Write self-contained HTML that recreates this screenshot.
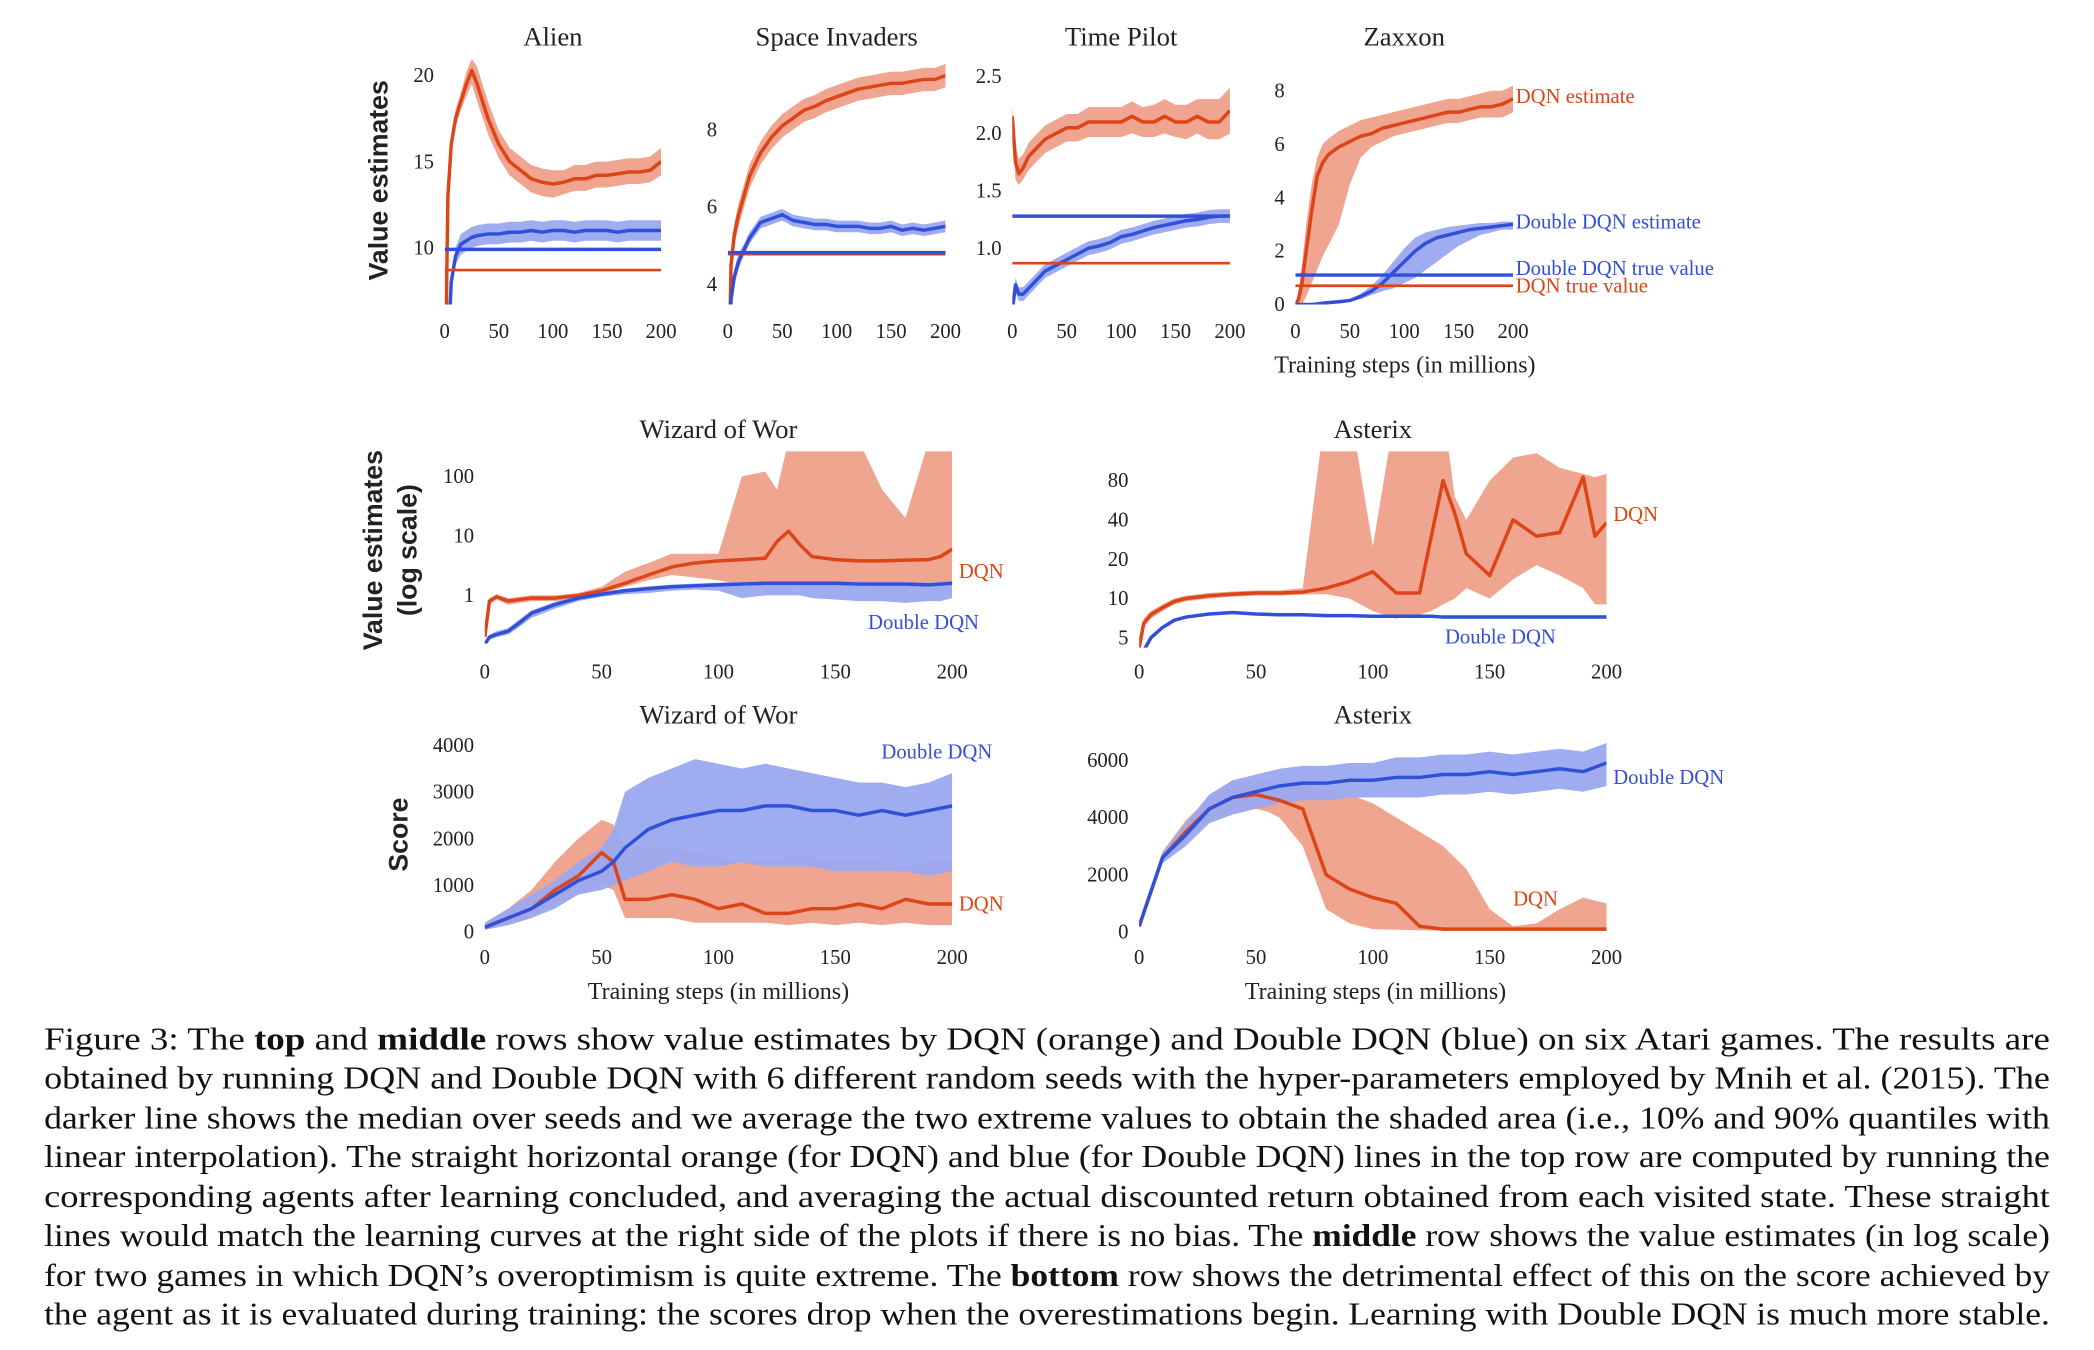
<!DOCTYPE html>
<html><head><meta charset="utf-8">
<style>
html,body{margin:0;padding:0;background:#fff;}
svg{display:block;}
.tk{font-family:"Liberation Serif",serif;font-size:15.5px;fill:#222;}
.tt{font-family:"Liberation Serif",serif;font-size:20px;fill:#222;}
.yl{font-family:"Liberation Sans",sans-serif;font-size:20px;font-weight:bold;fill:#222;}
.lb{font-family:"Liberation Serif",serif;font-size:15.5px;}
.cap{font-family:"Liberation Serif",serif;font-size:23.5px;fill:#111;}
</style></head>
<body>
<svg id="fig" width="2094" height="1350" viewBox="0 0 1568 1011" preserveAspectRatio="none" xmlns="http://www.w3.org/2000/svg">
<defs id="defs"></defs>
<g id="plots"></g>
<text class="yl" transform="translate(290,135) rotate(-90)" text-anchor="middle">Value estimates</text>
<text class="yl" transform="translate(286,412) rotate(-90)" text-anchor="middle">Value estimates</text>
<text class="yl" transform="translate(312,412) rotate(-90)" text-anchor="middle">(log scale)</text>
<text class="yl" transform="translate(305,625) rotate(-90)" text-anchor="middle">Score</text>
<text class="tt" x="1052" y="279" text-anchor="middle" style="font-size:18px">Training steps (in millions)</text>
<text class="tt" x="538" y="748" text-anchor="middle" style="font-size:18px">Training steps (in millions)</text>
<text class="tt" x="1030" y="748" text-anchor="middle" style="font-size:18px">Training steps (in millions)</text>
<g>
<text class="cap" x="33" y="786" textLength="1502" lengthAdjust="spacingAndGlyphs">Figure 3:  The <tspan font-weight="bold">top</tspan> and <tspan font-weight="bold">middle</tspan> rows show value estimates by DQN (orange) and Double DQN (blue) on six Atari games. The results are</text>
<text class="cap" x="33" y="815" textLength="1502" lengthAdjust="spacingAndGlyphs">obtained by running DQN and Double DQN with 6 different random seeds with the hyper-parameters employed by Mnih et al. (2015). The</text>
<text class="cap" x="33" y="845" textLength="1502" lengthAdjust="spacingAndGlyphs">darker line shows the median over seeds and we average the two extreme values to obtain the shaded area (i.e., 10% and 90% quantiles with</text>
<text class="cap" x="33" y="874" textLength="1502" lengthAdjust="spacingAndGlyphs">linear interpolation). The straight horizontal orange (for DQN) and blue (for Double DQN) lines in the top row are computed by running the</text>
<text class="cap" x="33" y="904" textLength="1502" lengthAdjust="spacingAndGlyphs">corresponding agents after learning concluded, and averaging the actual discounted return obtained from each visited state. These straight</text>
<text class="cap" x="33" y="933" textLength="1502" lengthAdjust="spacingAndGlyphs">lines would match the learning curves at the right side of the plots if there is no bias. The <tspan font-weight="bold">middle</tspan> row shows the value estimates (in log scale)</text>
<text class="cap" x="33" y="963" textLength="1502" lengthAdjust="spacingAndGlyphs">for two games in which DQN’s overoptimism is quite extreme. The <tspan font-weight="bold">bottom</tspan> row shows the detrimental effect of this on the score achieved by</text>
<text class="cap" x="33" y="992" textLength="1502" lengthAdjust="spacingAndGlyphs">the agent as it is evaluated during training: the scores drop when the overestimations begin. Learning with Double DQN is much more stable.</text>
</g>
</svg>
<script>
// ---------- data ----------
const xsTop = [0,3,6,10,15,20,25,30,40,50,60,70,80,90,100,110,120,130,140,150,160,170,180,190,200];
const xsMid = [0,2,5,10,15,20,30,40,50,60,70,80,90,100,110,120,125,130,135,140,150,160,170,180,190,195,200];
const xsBot = [0,10,20,30,40,50,55,60,70,80,90,100,110,120,130,140,150,160,170,180,190,200];

const alienDqn   = [0,13,16,17.5,18.5,19.5,20.3,19.5,17.5,16,15,14.5,14,13.8,13.7,13.8,14,14,14.2,14.2,14.3,14.4,14.4,14.5,15];
const alienDqnLo = [0,12.5,15.5,17,18,18.8,19.5,18.5,16.6,15.2,14.2,13.7,13.2,13,12.9,13.1,13.3,13.3,13.5,13.5,13.6,13.7,13.7,13.8,14.2];
const alienDqnHi = [0,13.5,16.5,18,19,20.2,21,20.5,18.5,16.8,15.8,15.3,14.8,14.6,14.5,14.5,14.8,14.8,15,15,15.1,15.2,15.2,15.3,15.8];
const alienDdqn   = [0,4,8,9.5,10.2,10.4,10.6,10.7,10.8,10.8,10.9,10.9,11,10.9,11,11,10.9,11,11,11,10.9,11,11,11,11];
const alienDdqnLo = [0,3.6,7.6,9,9.6,9.8,10,10.1,10.2,10.2,10.3,10.3,10.4,10.3,10.4,10.4,10.3,10.4,10.4,10.4,10.3,10.4,10.4,10.4,10.4];
const alienDdqnHi = [0,4.4,8.4,10,10.8,11,11.2,11.3,11.4,11.4,11.5,11.5,11.6,11.5,11.6,11.6,11.5,11.6,11.6,11.6,11.5,11.6,11.6,11.6,11.6];
const alienTrue = [8.7, 9.9];

const siDqn   = [0,4.5,5.3,5.8,6.3,6.8,7.1,7.4,7.8,8.1,8.3,8.5,8.6,8.75,8.85,8.95,9.05,9.1,9.15,9.2,9.2,9.25,9.3,9.3,9.4];
const siDqnLo = [0,4.2,5,5.5,6,6.5,6.8,7.1,7.5,7.8,8,8.2,8.3,8.45,8.55,8.65,8.75,8.8,8.85,8.9,8.9,8.95,9,9,9.1];
const siDqnHi = [0,4.8,5.6,6.1,6.6,7.1,7.4,7.7,8.1,8.4,8.6,8.8,8.9,9.05,9.15,9.25,9.35,9.4,9.45,9.5,9.5,9.55,9.6,9.6,9.7];
const siDdqn   = [0,3.6,4.2,4.6,4.9,5.2,5.4,5.6,5.7,5.8,5.65,5.6,5.55,5.55,5.5,5.5,5.5,5.45,5.45,5.5,5.4,5.45,5.4,5.45,5.5];
const siDdqnLo = [0,3.4,4,4.4,4.75,5.05,5.25,5.45,5.55,5.65,5.5,5.45,5.4,5.4,5.35,5.35,5.35,5.3,5.3,5.35,5.25,5.3,5.25,5.3,5.35];
const siDdqnHi = [0,3.8,4.4,4.8,5.05,5.35,5.55,5.75,5.85,5.95,5.8,5.75,5.7,5.7,5.65,5.65,5.65,5.6,5.6,5.65,5.55,5.6,5.55,5.6,5.65];
const siTrue = [4.78, 4.82];

const tpDqn   = [2.15,1.75,1.65,1.7,1.8,1.85,1.9,1.95,2.0,2.05,2.05,2.1,2.1,2.1,2.1,2.15,2.1,2.1,2.15,2.1,2.1,2.15,2.1,2.1,2.2];
const tpDqnLo = [2.05,1.6,1.55,1.6,1.68,1.73,1.78,1.83,1.88,1.93,1.93,1.97,1.97,1.97,1.97,2.0,1.97,1.97,2.0,1.97,1.95,2.0,1.95,1.95,2.0];
const tpDqnHi = [2.25,1.9,1.78,1.82,1.92,1.97,2.02,2.07,2.12,2.17,2.17,2.23,2.23,2.23,2.23,2.28,2.23,2.25,2.3,2.25,2.25,2.3,2.3,2.3,2.4];
const tpDdqn   = [0.45,0.68,0.6,0.6,0.65,0.7,0.75,0.8,0.85,0.9,0.95,1.0,1.02,1.05,1.1,1.12,1.15,1.18,1.2,1.22,1.24,1.25,1.27,1.28,1.28];
const tpDdqnLo = [0.4,0.62,0.54,0.54,0.59,0.64,0.69,0.74,0.79,0.84,0.89,0.94,0.96,0.99,1.04,1.06,1.09,1.12,1.14,1.16,1.18,1.19,1.21,1.22,1.22];
const tpDdqnHi = [0.5,0.74,0.66,0.66,0.71,0.76,0.81,0.86,0.91,0.96,1.01,1.06,1.08,1.11,1.16,1.18,1.21,1.24,1.26,1.28,1.3,1.31,1.33,1.34,1.34];
const tpTrue = [0.87, 1.28];

const zxDqn   = [0,0.2,0.8,2,3.5,4.8,5.3,5.6,5.9,6.1,6.3,6.4,6.6,6.7,6.8,6.9,7.0,7.1,7.2,7.2,7.3,7.4,7.4,7.5,7.7];
const zxDqnLo = [0,0,0,0.3,0.8,1.3,1.8,2.2,3,4.5,5.5,5.9,6.1,6.3,6.4,6.5,6.6,6.7,6.8,6.8,6.9,7,7,7,7.2];
const zxDqnHi = [0,0.5,1.5,3,4.5,5.5,6,6.2,6.5,6.7,6.9,7,7.1,7.2,7.3,7.4,7.5,7.6,7.7,7.7,7.8,7.9,8,8,8.2];
const zxDdqn   = [0,0,0,0,0,0.02,0.05,0.07,0.1,0.15,0.3,0.5,0.8,1.2,1.6,2.0,2.3,2.5,2.6,2.7,2.8,2.85,2.9,2.95,3.0];
const zxDdqnLo = [0,0,0,0,0,0,0.02,0.04,0.06,0.1,0.2,0.35,0.5,0.6,0.8,1.0,1.3,1.6,1.9,2.2,2.4,2.6,2.7,2.8,2.8];
const zxDdqnHi = [0,0,0,0,0.03,0.05,0.08,0.1,0.14,0.2,0.4,0.7,1.1,1.6,2.1,2.5,2.7,2.8,2.9,2.95,3.0,3.05,3.05,3.1,3.1];
const zxTrue = [0.7, 1.1];

const wowDqn   = [0.2,0.8,0.95,0.8,0.85,0.9,0.9,1.0,1.2,1.6,2.2,3.0,3.5,3.8,4,4.2,8,12,7,4.5,4,3.8,3.8,3.9,4,4.5,6];
const wowDqnLo = [0.2,0.7,0.85,0.7,0.75,0.8,0.8,0.9,1.1,1.4,1.8,2.2,2.0,1.8,1.5,1.5,1.5,1.5,1.4,1.4,1.4,1.4,1.3,1.3,1.4,1.4,1.5];
const wowDqnHi = [0.2,0.9,1.05,0.9,0.95,1.0,1.0,1.1,1.4,2.5,3.5,5,5,5,100,120,60,400,400,400,400,400,60,20,400,400,400];
const wowDdqn   = [0.15,0.2,0.22,0.25,0.35,0.5,0.7,0.9,1.05,1.2,1.3,1.4,1.45,1.5,1.55,1.6,1.6,1.6,1.6,1.6,1.6,1.55,1.55,1.55,1.5,1.55,1.6];
const wowDdqnLo = [0.15,0.18,0.2,0.22,0.3,0.42,0.6,0.8,0.95,1.05,1.1,1.2,1.25,1.2,0.9,1.0,1.0,1.0,1.0,0.9,0.85,0.8,0.8,0.75,0.8,0.8,0.9];
const wowDdqnHi = [0.16,0.22,0.25,0.28,0.4,0.56,0.78,1.0,1.15,1.3,1.42,1.52,1.58,1.64,1.7,1.75,1.75,1.75,1.75,1.75,1.75,1.7,1.7,1.7,1.65,1.7,1.75];

const astDqn   = [4.2,6.5,7.5,8.5,9.5,10,10.5,10.8,11,11,11.2,12,13.5,16,11,11,30,80,45,22,15,40,30,32,85,30,38];
const astDqnLo = [4.2,6,7,8,9,9.5,10,10.3,10.5,10.5,10.7,10.8,10,8,7,7.5,8,9,10,12,10,14,18,15,12,9,9];
const astDqnHi = [4.2,7,8,9,10,10.5,11,11.3,11.5,11.5,12,300,300,25,300,300,300,300,60,40,80,120,130,100,90,85,90];
const astDdqn   = [3,4,5,6,6.8,7.2,7.6,7.8,7.6,7.5,7.5,7.4,7.4,7.3,7.3,7.3,7.3,7.2,7.2,7.2,7.2,7.2,7.2,7.2,7.2,7.2,7.2];
const astDdqnLo = [3,3.8,4.8,5.8,6.6,7.0,7.4,7.6,7.4,7.3,7.3,7.2,7.2,7.1,7.1,7.1,7.1,7.0,7.0,7.0,7.0,7.0,7.0,7.0,7.0,7.0,7.0];
const astDdqnHi = [3,4.2,5.2,6.2,7.0,7.4,7.8,8.0,7.8,7.7,7.7,7.6,7.6,7.5,7.5,7.5,7.5,7.4,7.4,7.4,7.4,7.4,7.4,7.4,7.4,7.4,7.4];

const wsDqn   = [100,300,500,900,1200,1700,1500,700,700,800,700,500,600,400,400,500,500,600,500,700,600,600];
const wsDqnLo = [50,150,300,600,800,1000,900,300,300,300,200,200,200,200,150,200,150,200,150,200,150,150];
const wsDqnHi = [200,500,900,1500,2000,2400,2300,1800,1800,1800,1700,1600,1500,1500,1600,1600,1500,1500,1500,1400,1500,1500];
const wsDdqn   = [100,300,500,800,1100,1300,1500,1800,2200,2400,2500,2600,2600,2700,2700,2600,2600,2500,2600,2500,2600,2700];
const wsDdqnLo = [50,150,300,500,800,900,1000,1100,1300,1500,1400,1400,1500,1400,1400,1400,1300,1300,1300,1300,1200,1300];
const wsDdqnHi = [200,500,800,1100,1500,1800,2200,3000,3300,3500,3700,3600,3500,3600,3500,3400,3300,3200,3200,3100,3200,3400];

const asDqn   = [200,2600,3500,4300,4700,4800,4700,4600,4300,2000,1500,1200,1000,200,100,100,100,100,100,100,100,100];
const asDqnLo = [150,2400,3200,3900,4200,4300,4200,4000,3000,800,300,100,80,60,50,50,50,50,50,50,50,50];
const asDqnHi = [250,2800,3900,4700,5300,5300,5300,5200,5100,5000,4800,4500,4000,3500,3000,2200,800,200,300,800,1200,1000];
const asDdqn   = [200,2600,3400,4300,4700,4900,5000,5100,5200,5200,5300,5300,5400,5400,5500,5500,5600,5500,5600,5700,5600,5900];
const asDdqnLo = [150,2400,3000,3800,4100,4300,4400,4500,4600,4600,4700,4700,4700,4700,4800,4800,4900,4800,4900,5000,4900,5100];
const asDdqnHi = [250,2800,3800,4800,5300,5500,5600,5700,5800,5800,5900,5900,6100,6100,6200,6200,6300,6200,6300,6400,6300,6600];

const xTicks = [0,50,100,150,200];
const alienTicks = [10,15,20];
const siTicks = [4,6,8];
const tpTicks = [1.0,1.5,2.0,2.5];
const zxTicks = [0,2,4,6,8];
const wowTicks = [1,10,100];
const astTicks = [5,10,20,40,80];
const wsTicks = [0,1000,2000,3000,4000];
const asTicks = [0,2000,4000,6000];

// ---------- drawing ----------
const NS = "http://www.w3.org/2000/svg";
const plots = document.getElementById('plots');
const defs = document.getElementById('defs');
const OR = "#dd4417", ORB = "#eea08a", BL = "#3150d9", BLB = "#9aa8ef";
let clipN = 0;
function mk(tag, attrs, parent){ const e=document.createElementNS(NS,tag); for(const k in attrs) e.setAttribute(k,attrs[k]); (parent||plots).appendChild(e); return e; }

function panel(p){
  const g = mk('g',{});
  
  
  const id='c'+(clipN++);
  const cp = mk('clipPath',{id:id},defs);
  mk('rect',{x:p.x0,y:p.top,width:p.x1-p.x0,height:p.bot-p.top},cp);
  const tf = p.log ? (v=>Math.log(Math.max(v,1e-6))) : (v=>v);
  const ya = p.log ? Math.log(p.ymin) : p.ymin, yb = p.log ? Math.log(p.ymax) : p.ymax;
  const sx = v => p.x0 + (v/200)*(p.x1-p.x0);
  const sy = v => p.bot - (tf(v)-ya)/(yb-ya)*(p.bot-p.top);
  const inner = mk('g',{'clip-path':'url(#'+id+')'},g);
  function band(xs,lo,hi,col,nm){
    let d='M'+xs.map((x,i)=>sx(x).toFixed(1)+','+sy(hi[i]).toFixed(1)).join('L');
    for(let i=xs.length-1;i>=0;i--) d+='L'+sx(xs[i]).toFixed(1)+','+sy(lo[i]).toFixed(1);
    const e=mk('path',{d:d+'Z',fill:col,opacity:0.95},inner);
    
    
  }
  function line(xs,ys,col,nm){
    const e=mk('path',{d:'M'+xs.map((x,i)=>sx(x).toFixed(1)+','+sy(ys[i]).toFixed(1)).join('L'),fill:'none',stroke:col,'stroke-width':2.6,'stroke-linejoin':'round'},inner);
    
    
  }
  band(p.xs,p.dLo,p.dHi,ORB,'dqn-band');
  band(p.xs,p.bLo,p.bHi,BLB,'double-dqn-band');
  line(p.xs,p.d,OR,'dqn-median-line');
  line(p.xs,p.b,BL,'double-dqn-median-line');
  if(p.tru){
    const a=mk('line',{x1:p.x0,x2:p.x1,y1:sy(p.tru[0]),y2:sy(p.tru[0]),stroke:OR,'stroke-width':2},inner);
    
    
    const b=mk('line',{x1:p.x0,x2:p.x1,y1:sy(p.tru[1]),y2:sy(p.tru[1]),stroke:BL,'stroke-width':2.6},inner);
    
    
  }
  xTicks.forEach(t=>{
    const e=mk('text',{x:sx(t),y:p.xty,'text-anchor':'middle',class:'tk'},g); e.textContent=t;
    
    
  });
  p.yt.forEach(t=>{
    const e=mk('text',{x:p.x0-8,y:sy(t)+5,'text-anchor':'end',class:'tk'},g); e.textContent=(p.fmt?p.fmt(t):t);
    
    
  });
  const t=mk('text',{x:(p.x0+p.x1)/2,y:p.ty,'text-anchor':'middle',class:'tt'},g); t.textContent=p.title;
  
  
  (p.labels||[]).forEach(l=>{
    const e=mk('text',{x:l[0],y:l[1],class:'lb',fill:l[3]},g); e.textContent=l[2];
    
    
  });
}
const f1 = v=>v.toFixed(1);
panel({name:'alien-panel',title:'Alien',x0:333,x1:495,top:45,bot:228,ymin:6.7,ymax:20.9,xty:253,ty:34,yt:alienTicks,xs:xsTop,d:alienDqn,dLo:alienDqnLo,dHi:alienDqnHi,b:alienDdqn,bLo:alienDdqnLo,bHi:alienDdqnHi,tru:alienTrue});
panel({name:'space-invaders-panel',title:'Space Invaders',x0:545,x1:708,top:45,bot:228,ymin:3.48,ymax:9.8,xty:253,ty:34,yt:siTicks,xs:xsTop,d:siDqn,dLo:siDqnLo,dHi:siDqnHi,b:siDdqn,bLo:siDdqnLo,bHi:siDdqnHi,tru:siTrue});
panel({name:'time-pilot-panel',title:'Time Pilot',x0:758,x1:921,top:45,bot:228,ymin:0.51,ymax:2.64,xty:253,ty:34,yt:tpTicks,fmt:f1,xs:xsTop,d:tpDqn,dLo:tpDqnLo,dHi:tpDqnHi,b:tpDdqn,bLo:tpDdqnLo,bHi:tpDdqnHi,tru:tpTrue});
panel({name:'zaxxon-panel',title:'Zaxxon',x0:970,x1:1133,top:45,bot:228,ymin:0,ymax:9.15,xty:253,ty:34,yt:zxTicks,xs:xsTop,d:zxDqn,dLo:zxDqnLo,dHi:zxDqnHi,b:zxDdqn,bLo:zxDdqnLo,bHi:zxDdqnHi,tru:zxTrue,
  labels:[[1135,77,'DQN estimate',OR],[1135,171,'Double DQN estimate',BL],[1135,206,'Double DQN true value',BL],[1135,219,'DQN true value',OR]]});
panel({name:'wizard-of-wor-value-panel',title:'Wizard of Wor',x0:363,x1:713,top:338,bot:482,ymin:0.155,ymax:263,log:true,xty:508,ty:328,yt:wowTicks,xs:xsMid,d:wowDqn,dLo:wowDqnLo,dHi:wowDqnHi,b:wowDdqn,bLo:wowDdqnLo,bHi:wowDdqnHi,
  labels:[[718,433,'DQN',OR],[650,471,'Double DQN',BL]]});
panel({name:'asterix-value-panel',title:'Asterix',x0:853,x1:1203,top:338,bot:485,ymin:4.2,ymax:134,log:true,xty:508,ty:328,yt:astTicks,xs:xsMid,d:astDqn,dLo:astDqnLo,dHi:astDqnHi,b:astDdqn,bLo:astDdqnLo,bHi:astDdqnHi,
  labels:[[1208,390,'DQN',OR],[1082,482,'Double DQN',BL]]});
panel({name:'wizard-of-wor-score-panel',title:'Wizard of Wor',x0:363,x1:713,top:550,bot:700,ymin:-57,ymax:4230,xty:722,ty:542,yt:wsTicks,xs:xsBot,d:wsDqn,dLo:wsDqnLo,dHi:wsDqnHi,b:wsDdqn,bLo:wsDdqnLo,bHi:wsDdqnHi,
  labels:[[660,568,'Double DQN',BL],[718,682,'DQN',OR]]});
panel({name:'asterix-score-panel',title:'Asterix',x0:853,x1:1203,top:550,bot:700,ymin:-94,ymax:6900,xty:722,ty:542,yt:asTicks,xs:xsBot,d:asDqn,dLo:asDqnLo,dHi:asDqnHi,b:asDdqn,bLo:asDdqnLo,bHi:asDdqnHi,
  labels:[[1208,587,'Double DQN',BL],[1133,678,'DQN',OR]]});
</script>
</body></html>
